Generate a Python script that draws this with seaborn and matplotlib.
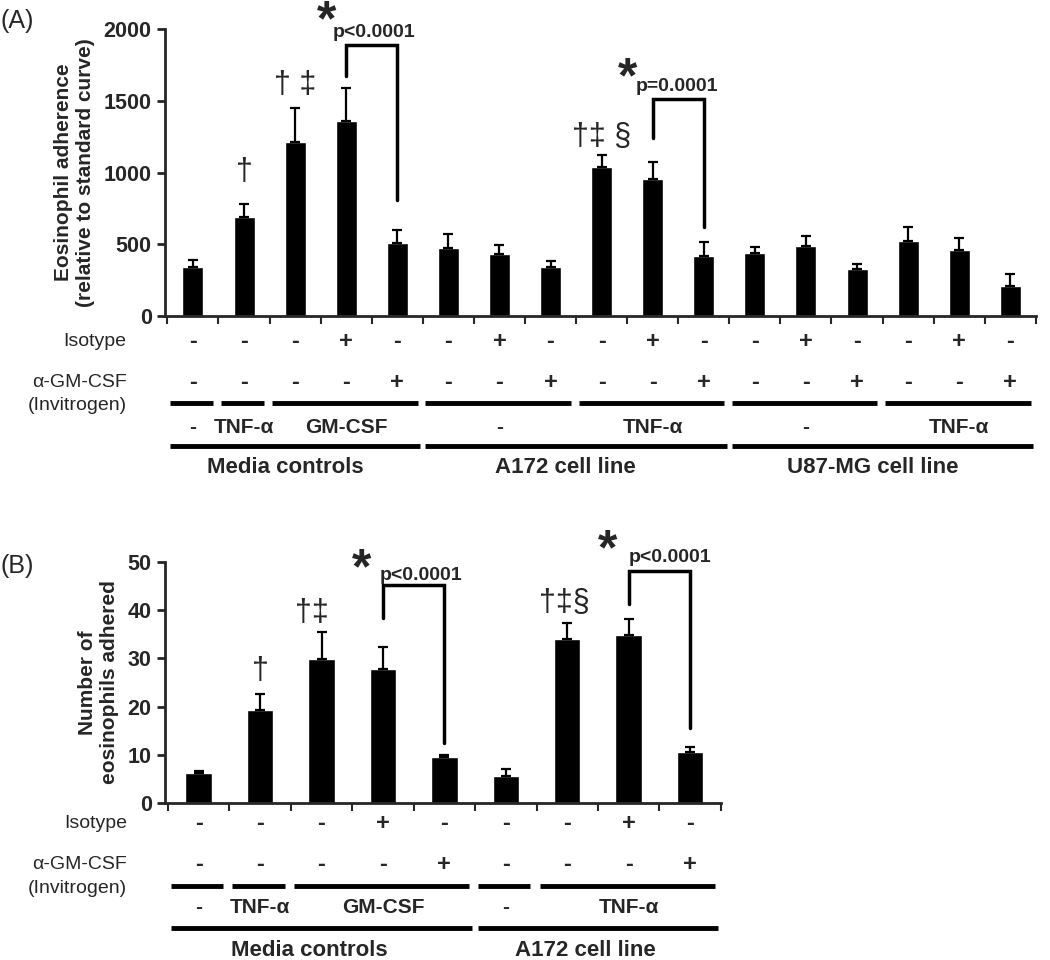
import matplotlib
matplotlib.use("Agg")
import matplotlib.pyplot as plt
import numpy as np
import pandas as pd
import seaborn as sns

# ---- panel A data ----
a_means = [340, 690, 1210, 1360, 510, 475, 435, 340, 1040, 955, 415, 440, 490, 325, 520, 460, 210]
a_err = [50, 90, 240, 230, 90, 95, 60, 40, 80, 120, 100, 40, 65, 40, 100, 85, 80]
a_iso = ['-', '-', '-', '+', '-', '-', '+', '-', '-', '+', '-', '-', '+', '-', '-', '+', '-']
a_gm = ['-', '-', '-', '-', '+', '-', '-', '+', '-', '-', '+', '-', '-', '+', '-', '-', '+']
a_treat = ['-', 'TNF-α', 'GM-CSF', '-', 'TNF-α', '-', 'TNF-α']
a_treat_span = [(0, 0), (1, 1), (2, 4), (5, 7), (8, 10), (11, 13), (14, 16)]
a_groups = ['Media controls', 'A172 cell line', 'U87-MG cell line']
a_group_span = [(0, 4), (5, 10), (11, 16)]

# ---- panel B data ----
b_means = [6.3, 19.3, 29.9, 27.9, 9.6, 5.7, 34.0, 34.9, 10.5]
b_err = [0.3, 3.3, 5.6, 4.5, 0.3, 1.3, 3.3, 3.3, 1.2]
b_iso = ['-', '-', '-', '+', '-', '-', '-', '+', '-']
b_gm = ['-', '-', '-', '-', '+', '-', '-', '-', '+']
b_treat = ['-', 'TNF-α', 'GM-CSF', '-', 'TNF-α']
b_treat_span = [(0, 0), (1, 1), (2, 4), (5, 5), (6, 8)]
b_groups = ['Media controls', 'A172 cell line']
b_group_span = [(0, 4), (5, 8)]

sns.set_style("ticks")
plt.rcParams['font.family'] = ['Liberation Sans', 'DejaVu Sans']

fig = plt.figure(figsize=(10.5, 9.6), dpi=100)
ax_a = fig.add_axes([0.157, 0.6708, 0.8295, 0.299])
ax_b = fig.add_axes([0.157, 0.1635, 0.5295, 0.251])


def draw_bars(ax, means, err, width):
    n = len(means)
    df = pd.DataFrame({'cond': list(range(n)), 'val': means})
    sns.barplot(data=df, x='cond', y='val', color='black', width=width,
                errorbar=None, ax=ax, saturation=1)
    ax.errorbar(range(n), means, yerr=[np.zeros(n), err], fmt='none',
                ecolor='black', elinewidth=1.6, capsize=3.5, capthick=1.6)
    ax.set_xlim(-0.55, n - 0.5)
    ax.set_xticks(np.arange(n + 1) - 0.5)
    ax.set_xticklabels([])
    ax.set_xlabel('')
    sns.despine(ax=ax)
    for s in ['left', 'bottom']:
        ax.spines[s].set_linewidth(2)
    ax.tick_params(axis='x', length=6, width=1.5)
    ax.tick_params(axis='y', length=6, width=2, labelsize=15.5)
    for lab in ax.get_yticklabels():
        lab.set_fontweight('bold')


def draw_table(ax, iso, gm, treat, treat_span, groups, group_span, ys, lab_x):
    tr = ax.get_xaxis_transform()
    y_iso, y_gm, y_line, y_treat, y_long, y_grp = ys
    for i, (s1, s2) in enumerate(zip(iso, gm)):
        ax.text(i, y_iso, s1, transform=tr, ha='center', va='center',
                fontsize=17, fontweight='bold', clip_on=False)
        ax.text(i, y_gm, s2, transform=tr, ha='center', va='center',
                fontsize=17, fontweight='bold', clip_on=False)
    ax.text(lab_x, y_iso, 'Isotype', transform=ax.transAxes, ha='right',
            va='center', fontsize=14)
    ax.text(lab_x, y_gm, 'α-GM-CSF', transform=ax.transAxes, ha='right',
            va='center', fontsize=14)
    ax.text(lab_x, y_line - 0.01, '(Invitrogen)', transform=ax.transAxes,
            ha='right', va='center', fontsize=14)
    for lab, (a, b) in zip(treat, treat_span):
        ax.plot([a - 0.45, b + 0.4], [y_line, y_line], transform=tr,
                color='black', lw=3.5, clip_on=False, solid_capstyle='butt')
        ax.text((a + b) / 2, y_treat, lab, transform=tr, ha='center',
                va='center', fontsize=15, fontweight='bold', clip_on=False)
    for lab, (a, b) in zip(groups, group_span):
        ax.plot([a - 0.45, b + 0.45], [y_long, y_long], transform=tr,
                color='black', lw=3.5, clip_on=False, solid_capstyle='butt')
        ax.text((a + b) / 2 - 0.2, y_grp, lab, transform=tr, ha='center',
                va='center', fontsize=16, fontweight='bold', clip_on=False)


def bracket(ax, x1, x2, top, bot1, bot2):
    ax.plot([x1, x1, x2, x2], [bot1, top, top, bot2], color='black', lw=2.5,
            clip_on=False, solid_joinstyle='miter')


# ---- panel A ----
draw_bars(ax_a, a_means, a_err, 0.41)
ax_a.set_ylim(0, 2000)
ax_a.set_yticks([0, 500, 1000, 1500, 2000])
ax_a.set_ylabel('Eosinophil adherence\n(relative to standard curve)',
                fontsize=15, fontweight='bold', labelpad=6)
draw_table(ax_a, a_iso, a_gm, a_treat, a_treat_span, a_groups, a_group_span,
           (-0.087, -0.23, -0.303, -0.387, -0.453, -0.526), -0.044)

bracket(ax_a, 3, 4, 1890, 1670, 810)
ax_a.text(2.42, 2045, '*', fontsize=36, fontweight='bold', ha='left', va='center', clip_on=False)
ax_a.text(2.74, 1975, 'p<0.0001', fontsize=14, fontweight='bold', ha='left', va='center', clip_on=False)
bracket(ax_a, 9, 10, 1512, 1243, 622)
ax_a.text(8.32, 1650, '*', fontsize=36, fontweight='bold', ha='left', va='center', clip_on=False)
ax_a.text(8.67, 1600, 'p=0.0001', fontsize=14, fontweight='bold', ha='left', va='center', clip_on=False)
ax_a.text(1, 1004, '†', fontsize=22, ha='center', va='center')
ax_a.text(2, 1610, '† ‡', fontsize=22, ha='center', va='center')
ax_a.text(8, 1250, '†‡ §', fontsize=22, ha='center', va='center')

fig.text(0.0, 0.978, '(A)', fontsize=18, ha='left', va='center')

# ---- panel B ----
draw_bars(ax_b, b_means, b_err, 0.43)
ax_b.set_ylim(0, 50)
ax_b.set_yticks([0, 10, 20, 30, 40, 50])
ax_b.set_ylabel('Number of\neosinophils adhered', fontsize=15,
                fontweight='bold', labelpad=6)
draw_table(ax_b, b_iso, b_gm, b_treat, b_treat_span, b_groups, b_group_span,
           (-0.083, -0.257, -0.344, -0.432, -0.519, -0.614), -0.068)

bracket(ax_b, 3, 4, 45.2, 38.4, 12.4)
ax_b.text(2.5, 48.2, '*', fontsize=36, fontweight='bold', ha='left', va='center', clip_on=False)
ax_b.text(2.94, 47.3, 'p<0.0001', fontsize=14, fontweight='bold', ha='left', va='center', clip_on=False)
bracket(ax_b, 7, 8, 48.2, 41.3, 15.5)
ax_b.text(6.5, 52.2, '*', fontsize=36, fontweight='bold', ha='left', va='center', clip_on=False)
ax_b.text(7.0, 51.0, 'p<0.0001', fontsize=14, fontweight='bold', ha='left', va='center', clip_on=False)
ax_b.text(1, 27.5, '†', fontsize=22, ha='center', va='center')
ax_b.text(1.85, 39.4, '†‡', fontsize=22, ha='center', va='center')
ax_b.text(5.95, 41.5, '†‡§', fontsize=22, ha='center', va='center')

fig.text(0.0, 0.41, '(B)', fontsize=18, ha='left', va='center')

fig.savefig('out.png', dpi=100)
